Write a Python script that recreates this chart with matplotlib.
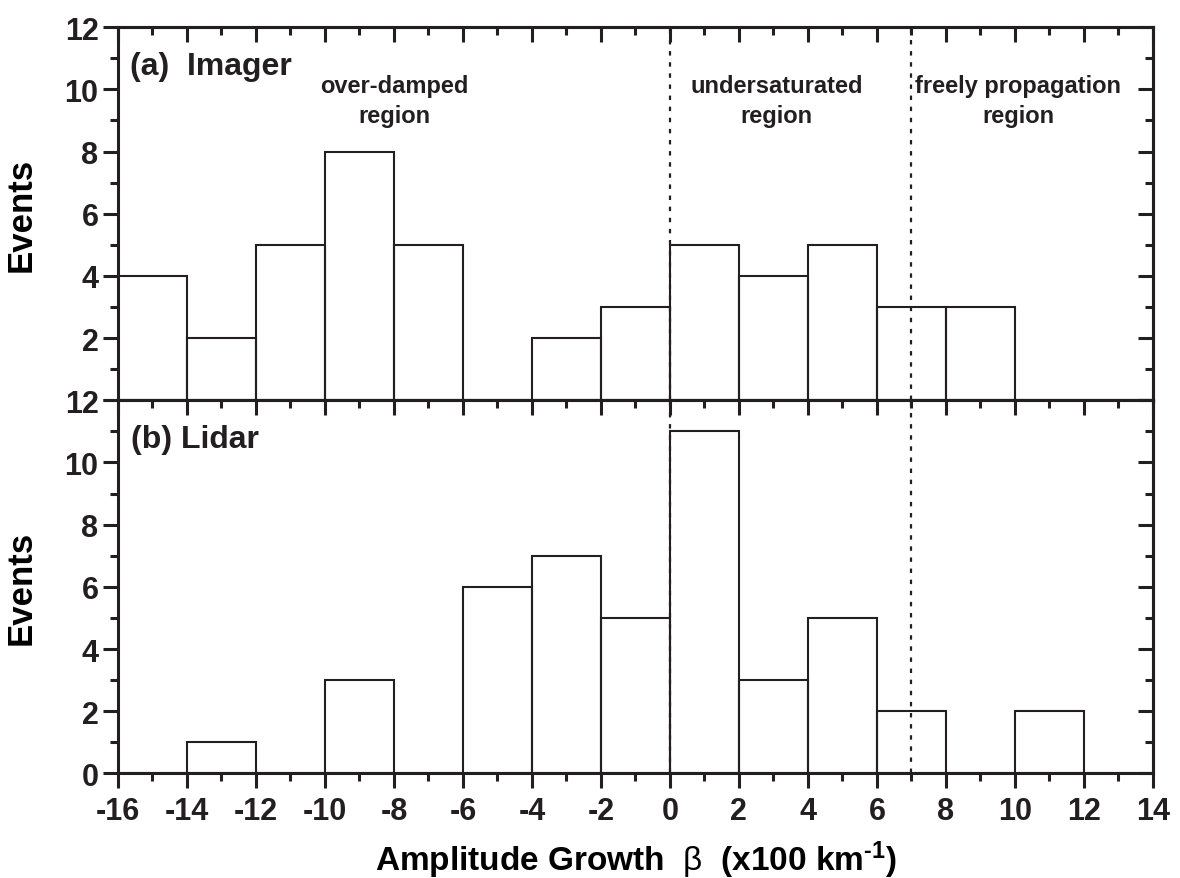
import matplotlib
matplotlib.use('Agg')
import matplotlib.pyplot as plt
import numpy as np

# histogram data (bin width 2, left edges)
bin_edges = np.arange(-16, 14, 2)
imager_counts = [4, 2, 5, 8, 5, 0, 2, 3, 5, 4, 5, 3, 3, 0, 0]
lidar_counts = [0, 1, 0, 3, 0, 6, 7, 5, 11, 3, 5, 2, 0, 2, 0]
boundaries = [0, 7]

region_labels = ['over-damped\nregion', 'undersaturated\nregion', 'freely propagation\nregion']
region_x = [-8, 3.1, 10.1]

ink = '#231f20'
plt.rcParams['font.family'] = ['Liberation Sans', 'DejaVu Sans']
plt.rcParams['font.weight'] = 'bold'
plt.rcParams['axes.unicode_minus'] = False
plt.rcParams['mathtext.fontset'] = 'custom'
plt.rcParams['mathtext.rm'] = 'Liberation Sans:bold'
plt.rcParams['mathtext.bf'] = 'Liberation Sans:bold'
plt.rcParams['mathtext.it'] = 'Liberation Sans:normal'
plt.rcParams['text.color'] = ink
plt.rcParams['axes.edgecolor'] = ink
plt.rcParams['xtick.color'] = ink
plt.rcParams['ytick.color'] = ink

fig = plt.figure(figsize=(11.8, 8.79), dpi=100)
gs = fig.add_gridspec(2, 1, left=0.1, right=0.977, top=0.968, bottom=0.119, hspace=0)
ax1 = fig.add_subplot(gs[0])
ax2 = fig.add_subplot(gs[1], sharex=ax1)

tick_fs = 22


def style_axes(ax, show_bottom):
    for s in ax.spines.values():
        s.set_linewidth(2.2)
    ax.set_xlim(-16, 14)
    ax.set_ylim(0, 12)
    ax.set_xticks(np.arange(-16, 15, 2))
    ax.set_xticks(np.arange(-16, 15, 1), minor=True)
    ax.set_yticks(np.arange(0, 13, 2))
    ax.set_yticks(np.arange(0, 13, 1), minor=True)
    ax.tick_params(axis='y', which='major', direction='out', length=11, width=2.2, labelsize=tick_fs, pad=3, right=False)
    ax.tick_params(axis='y', which='minor', direction='out', length=6, width=2.2, right=False)
    ax.tick_params(axis='x', which='major', direction='out', length=11, width=2.2, labelsize=tick_fs, pad=5, top=False,
                   bottom=show_bottom, labelbottom=show_bottom)
    ax.tick_params(axis='x', which='minor', direction='out', length=6, width=2.2, top=False, bottom=show_bottom)
    # inward ticks on top and right
    sx = ax.secondary_xaxis('top')
    sx.set_xticks(np.arange(-16, 15, 2))
    sx.set_xticks(np.arange(-16, 15, 1), minor=True)
    sx.tick_params(which='major', direction='in', length=11, width=2.2, labeltop=False)
    sx.tick_params(which='minor', direction='in', length=6, width=2.2)
    sy = ax.secondary_yaxis('right')
    sy.set_yticks(np.arange(0, 13, 2))
    sy.set_yticks(np.arange(0, 13, 1), minor=True)
    sy.tick_params(which='major', direction='in', length=11, width=2.2, labelright=False)
    sy.tick_params(which='minor', direction='in', length=6, width=2.2)
    for s in list(sx.spines.values()) + list(sy.spines.values()):
        s.set_linewidth(2.2)
    for b in boundaries:
        ax.axvline(b, color=ink, lw=1.6, linestyle=(0, (2, 3)), zorder=1)


ax1.bar(bin_edges, imager_counts, width=2, align='edge', fill=False, edgecolor=ink, linewidth=1.5, zorder=2)
ax2.bar(bin_edges, lidar_counts, width=2, align='edge', fill=False, edgecolor=ink, linewidth=1.5, zorder=2)

style_axes(ax1, False)
style_axes(ax2, True)
ax1.set_yticks(np.arange(0, 13, 2))
ax1.set_yticklabels([''] + [str(v) for v in range(2, 13, 2)])
plt.setp(ax1.get_xticklabels(), visible=False)

ax1.text(0.012, 0.895, '(a)  Imager', transform=ax1.transAxes, fontsize=23, fontweight='bold', va='center')
ax2.text(0.013, 0.895, '(b) Lidar', transform=ax2.transAxes, fontsize=23, fontweight='bold', va='center')

for lab, x in zip(region_labels, region_x):
    ax1.text(x, 9.65, lab, ha='center', va='center', fontsize=17, fontweight='bold', linespacing=1.4)

ax1.set_ylabel('Events', fontsize=25, fontweight='bold')
ax2.set_ylabel('Events', fontsize=25, fontweight='bold')
ax1.yaxis.set_label_coords(-0.078, 0.5)
ax2.yaxis.set_label_coords(-0.078, 0.5)
ax2.set_xlabel('Amplitude Growth  $\\beta$  (x100 km$^{\\text{-1}}$)', fontsize=24, fontweight='bold', labelpad=9)

fig.savefig('out.png', dpi=100)
